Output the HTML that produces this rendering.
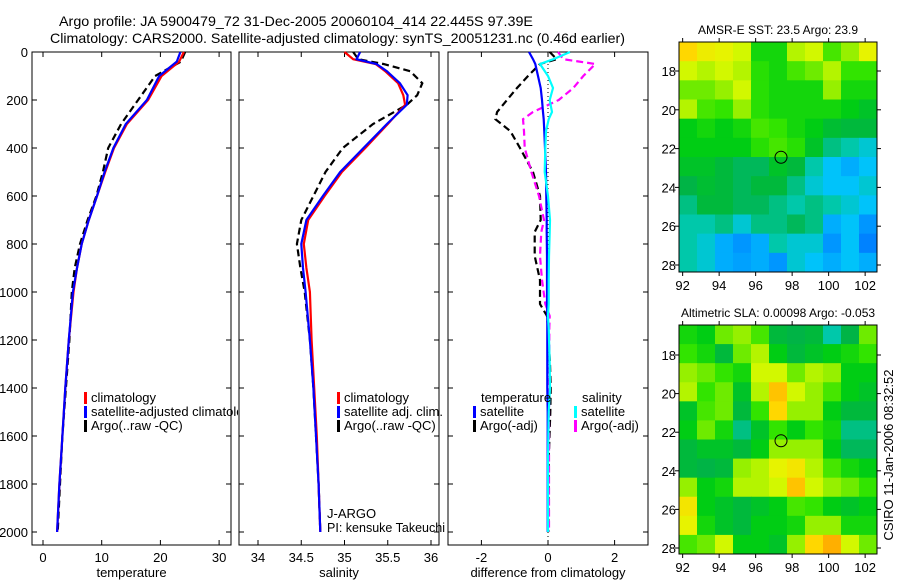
<!DOCTYPE html>
<html><head><meta charset="utf-8"><style>
body{margin:0;background:#fff}
svg text{font-family:"Liberation Sans",sans-serif;fill:#000}
</style></head><body>
<svg id="fig" width="900" height="580" viewBox="0 0 900 580" xmlns="http://www.w3.org/2000/svg">
<defs><clipPath id="clip1"><rect x="0" y="0" width="238" height="580"/></clipPath></defs>
<rect width="900" height="580" fill="#fff"/>
<text x="59" y="26" font-size="14" textLength="474" lengthAdjust="spacingAndGlyphs">Argo profile: JA 5900479_72 31-Dec-2005 20060104_414 22.445S 97.39E</text>
<text x="50" y="43" font-size="14" textLength="575" lengthAdjust="spacingAndGlyphs">Climatology: CARS2000. Satellite-adjusted climatology: synTS_20051231.nc (0.46d earlier)</text>
<g id="g1"></g>
<g id="g2"></g>
<g id="g3"></g>
<g id="m1"></g>
<g id="m2"></g>
<text transform="translate(893,455) rotate(-90)" font-size="13" text-anchor="middle">CSIRO 11-Jan-2006 08:32:52</text>
</svg>
<script>
// ---- data ----
const tDepth=[0,40,100,200,300,400,500,600,700,800,900,1000,1200,1400,1600,1800,2000];
const tClim=[24,23.2,20.2,17.9,14.3,12.1,10.6,9.2,7.8,6.6,5.8,5.2,4.4,3.8,3.3,2.8,2.4];
const tSat=[23.4,22.8,19.8,17.7,14.1,12,10.5,9.2,7.8,6.6,5.8,5.1,4.4,3.8,3.3,2.8,2.4];
const tArgo=[24.2,23.5,19.1,16.2,13.3,11.1,10.2,9.1,7.6,6.3,5.4,4.9,4.5,3.9,3.3,2.9,2.5];
const sDepth=[0,30,50,80,130,180,220,300,400,500,600,700,800,900,1000,1200,1400,1600,1800,2000];
const sClim=[35.0,35.1,35.36,35.47,35.62,35.68,35.7,35.5,35.24,34.97,34.77,34.58,34.53,34.56,34.6,34.62,34.65,34.68,34.7,34.72];
const sSat=[35.18,35.14,35.37,35.49,35.64,35.73,35.72,35.49,35.22,34.95,34.75,34.56,34.5,34.52,34.55,34.6,34.64,34.67,34.7,34.72];
const sArgo=[35.1,35.16,35.45,35.76,35.9,35.84,35.72,35.33,34.98,34.78,34.64,34.5,34.45,34.49,34.54,34.6,34.64,34.67,34.7,34.72];
const dDepth=[0,30,50,100,150,200,250,280,330,400,500,600,700,750,850,950,1050,1100,1150,1300,1400,1500,1700,2000];
const dTempSat=[-0.57,-0.45,-0.38,-0.3,-0.22,-0.18,-0.15,-0.13,-0.11,-0.09,-0.06,-0.05,-0.04,-0.04,-0.03,-0.03,-0.03,-0.02,-0.02,-0.02,-0.02,-0.01,-0.01,-0.01];
const dTempArgo=[0.05,0.26,-0.24,-0.6,-0.93,-1.23,-1.53,-1.58,-1.13,-0.84,-0.45,-0.24,-0.22,-0.4,-0.4,-0.24,-0.24,-0.03,0,0.06,0.08,0.07,0.02,0.01];
const dSalSat=[0.66,0.16,-0.24,0.0,0.15,0.05,0.12,0.02,-0.06,-0.08,-0.1,0.0,0.06,0.05,0.03,0.02,0.02,0.0,0.02,0.05,0.06,0.02,0.0,0.0];
const dSalArgo=[0.3,0.46,1.42,1.06,0.76,0.32,-0.45,-0.75,-0.72,-0.7,-0.5,-0.27,-0.12,-0.2,-0.24,-0.18,-0.08,0.05,0.04,0.04,0.04,0.03,0.03,0.03];
const sstGrid=[
[.70,.67,.66,.64,.52,.52,.62,.64,.56,.60,.66],
[.64,.62,.64,.62,.54,.52,.56,.58,.62,.55,.55],
[.58,.58,.60,.64,.54,.52,.52,.52,.60,.52,.52],
[.62,.56,.55,.60,.54,.52,.52,.52,.52,.50,.48],
[.50,.52,.50,.52,.56,.55,.52,.50,.47,.46,.46],
[.50,.50,.50,.50,.54,.56,.54,.48,.42,.40,.38],
[.48,.48,.46,.44,.44,.48,.46,.40,.36,.34,.36],
[.45,.47,.46,.44,.46,.46,.42,.38,.36,.36,.38],
[.42,.46,.46,.44,.44,.42,.40,.42,.40,.38,.36],
[.40,.40,.42,.38,.42,.42,.44,.42,.34,.36,.32],
[.40,.38,.34,.32,.34,.40,.38,.38,.32,.36,.30],
[.40,.38,.34,.33,.34,.32,.38,.36,.34,.36,.34]];
const slaGrid=[
[.52,.50,.58,.60,.56,.46,.45,.46,.40,.45,.58],
[.55,.52,.46,.58,.62,.50,.46,.48,.50,.52,.55],
[.60,.58,.55,.52,.64,.64,.58,.62,.60,.50,.50],
[.62,.55,.58,.48,.62,.72,.64,.60,.56,.50,.48],
[.48,.56,.58,.46,.55,.70,.60,.60,.50,.46,.46],
[.50,.58,.52,.42,.48,.55,.50,.55,.52,.42,.42],
[.46,.48,.48,.46,.50,.60,.60,.60,.50,.44,.44],
[.46,.45,.46,.60,.62,.66,.68,.62,.56,.52,.50],
[.60,.50,.52,.62,.62,.64,.72,.64,.60,.58,.55],
[.68,.50,.48,.46,.48,.50,.56,.55,.50,.48,.50],
[.66,.52,.48,.46,.50,.50,.52,.60,.60,.52,.52],
[.56,.58,.64,.50,.50,.48,.60,.70,.74,.64,.58]];
const depthTicks=[0,200,400,600,800,1000,1200,1400,1600,1800,2000];
const tTicks=[0,10,20,30];
const sTicks=[34,34.5,35,35.5,36];
const dTicks=[-2,0,2];
const lonTicks=[92,94,96,98,100,102];
const latTicks=[18,20,22,24,26,28];
const floatLon=97.39, floatLat=22.445;

const NS="http://www.w3.org/2000/svg";
function mk(parent,tag,attrs,txt){const e=document.createElementNS(NS,tag);for(const k in attrs)e.setAttribute(k,attrs[k]);if(txt!==undefined)e.textContent=txt;parent.appendChild(e);return e;}
const yD=d=>52+d*0.24;
const TOP=52,BOT=545;

function panel(g,x0,x1,xs,ticks,label,showY){
  const f=mk(g,'rect',{x:x0,y:TOP,width:x1-x0,height:BOT-TOP,fill:'none',stroke:'#000','stroke-width':1});
  
  
  ticks.forEach(t=>{const x=xs(t);
    mk(g,'line',{x1:x,x2:x,y1:BOT,y2:BOT-5,stroke:'#000'});mk(g,'line',{x1:x,x2:x,y1:TOP,y2:TOP+5,stroke:'#000'});
    const tl=mk(g,'text',{x:x,y:562,'font-size':13,'text-anchor':'middle'},String(t));
    
    });
  depthTicks.forEach(d=>{const y=yD(d);
    mk(g,'line',{x1:x0,x2:x0+5,y1:y,y2:y,stroke:'#000'});mk(g,'line',{x1:x1,x2:x1-5,y1:y,y2:y,stroke:'#000'});
    if(showY){const tl=mk(g,'text',{x:28,y:y+5,'font-size':13,'text-anchor':'end'},String(d));
      
      }});
  const xl=mk(g,'text',{x:(x0+x1)/2,y:577,'font-size':13,'text-anchor':'middle'},label);
  
  
}
function line(g,xs,depth,vals,color,dash,name){
  const pts=vals.map((v,i)=>xs(v).toFixed(1)+','+yD(depth[i]).toFixed(1)).join(' ');
  const p=mk(g,'polyline',{points:pts,fill:'none',stroke:color,'stroke-width':2.2,'stroke-dasharray':dash||'none'});
  
  
}
function legend(g,x,y,color,txt){
  mk(g,'rect',{x:x,y:y-10,width:3,height:12,fill:color});
  const t=mk(g,'text',{x:x+7,y:y,'font-size':13},txt);
  
  
  return t;
}
// panel 1
const g1=document.getElementById('g1');
const xT=v=>43+v*5.87;
panel(g1,32,231,xT,tTicks,'temperature',true);
line(g1,xT,tDepth,tArgo,'#000','7,4','argo-temperature-line');
line(g1,xT,tDepth,tClim,'#f00',null,'climatology-temperature-line');
line(g1,xT,tDepth,tSat,'#00f',null,'satellite-temperature-line');
legend(g1,84,402,'#f00','climatology');
legend(g1,84,416,'#00f','satellite-adjusted climatology').setAttribute('clip-path','url(#clip1)');
legend(g1,84,430,'#000','Argo(..raw -QC)');
// panel 2
const g2=document.getElementById('g2');
const xS=v=>258+(v-34)*86.5;
panel(g2,239,439,xS,sTicks,'salinity',false);
line(g2,xS,sDepth,sArgo,'#000','7,4','argo-salinity-line');
line(g2,xS,sDepth,sClim,'#f00',null,'climatology-salinity-line');
line(g2,xS,sDepth,sSat,'#00f',null,'satellite-salinity-line');
legend(g2,337,402,'#f00','climatology');
legend(g2,337,416,'#00f','satellite adj. clim.');
legend(g2,337,430,'#000','Argo(..raw -QC)');
mk(g2,'text',{x:327,y:518,'font-size':13},'J-ARGO');
mk(g2,'text',{x:327,y:532,'font-size':13,textLength:118,lengthAdjust:'spacingAndGlyphs'},'PI: kensuke Takeuchi');
// panel 3
const g3=document.getElementById('g3');
const xDf=v=>548+v*33.3;
panel(g3,448,648,xDf,dTicks,'difference from climatology',false);
mk(g3,'line',{x1:xDf(0),x2:xDf(0),y1:TOP,y2:BOT,stroke:'#000','stroke-dasharray':'1,3'});
line(g3,xDf,dDepth,dTempArgo,'#000','7,4','argo-temperature-diff-line');
line(g3,xDf,dDepth,dSalArgo,'#f0f','7,4','argo-salinity-diff-line');
line(g3,xDf,dDepth,dTempSat,'#00f',null,'satellite-temperature-diff-line');
line(g3,xDf,dDepth,dSalSat,'#0ff',null,'satellite-salinity-diff-line');
mk(g3,'text',{x:481,y:402,'font-size':13},'temperature');
mk(g3,'text',{x:582,y:402,'font-size':13},'salinity');
legend(g3,473,416,'#00f','satellite');
legend(g3,473,430,'#000','Argo(-adj)');
legend(g3,574,416,'#0ff','satellite');
legend(g3,574,430,'#f0f','Argo(-adj)');

// maps
const cmapStops=[[0.28,[0,110,255]],[0.32,[0,150,255]],[0.36,[0,195,250]],[0.40,[0,200,170]],[0.45,[0,180,70]],[0.50,[0,205,20]],[0.55,[50,228,0]],[0.60,[150,240,0]],[0.65,[225,250,0]],[0.70,[255,215,0]],[0.75,[255,165,0]]];
function cmap(v){
  if(v<=cmapStops[0][0])return `rgb(${cmapStops[0][1].join(',')})`;
  for(let i=1;i<cmapStops.length;i++){
    if(v<=cmapStops[i][0]){const [a,ca]=cmapStops[i-1],[b,cb]=cmapStops[i];const t=(v-a)/(b-a);
      return `rgb(${ca.map((c,k)=>Math.round(c+(cb[k]-c)*t)).join(',')})`;}
  }
  return `rgb(${cmapStops[cmapStops.length-1][1].join(',')})`;
}
function map(g,grid,x0,x1,y0,y1,lat18y,pxLat,title){
  const lon0=91.8, lon1=102.65;
  const xs=lon=>x0+(lon-lon0)/(lon1-lon0)*(x1-x0);
  const ys=lat=>lat18y+(lat-18)*pxLat;
  const lat0=(y0-lat18y)/pxLat+18, lat1=(y1-lat18y)/pxLat+18;
  const nr=grid.length,nc=grid[0].length;
  grid.forEach((row,i)=>row.forEach((v,j)=>{
    const la=lat0+(lat1-lat0)*i/nr, lb=lat0+(lat1-lat0)*(i+1)/nr;
    const lo=lon0+(lon1-lon0)*j/nc, lo2=lon0+(lon1-lon0)*(j+1)/nc;
    const c=mk(g,'rect',{x:xs(lo),y:ys(la),width:xs(lo2)-xs(lo)+0.5,height:ys(lb)-ys(la)+0.5,fill:cmap(v)});
    
    
  }));
  mk(g,'rect',{x:x0,y:y0,width:x1-x0,height:y1-y0,fill:'none',stroke:'#000'});
  lonTicks.forEach(l=>{const x=xs(l);
    mk(g,'line',{x1:x,x2:x,y1:y1,y2:y1+4,stroke:'#000'});mk(g,'line',{x1:x,x2:x,y1:y0,y2:y0-4,stroke:'#000'});
    const t=mk(g,'text',{x:x,y:y1+18,'font-size':13,'text-anchor':'middle'},String(l));
    
    });
  latTicks.forEach(l=>{const y=ys(l);
    mk(g,'line',{x1:x0,x2:x0-4,y1:y,y2:y,stroke:'#000'});mk(g,'line',{x1:x1,x2:x1+4,y1:y,y2:y,stroke:'#000'});
    const t=mk(g,'text',{x:x0-3,y:y+5,'font-size':13,'text-anchor':'end'},String(l));
    
    });
  const c=mk(g,'circle',{cx:xs(floatLon),cy:ys(floatLat),r:6,fill:'none',stroke:'#000','stroke-width':1});
  
  
  const t=mk(g,'text',{x:(x0+x1)/2,y:y0-8,'font-size':12,'text-anchor':'middle'},title);
  
  
}
map(document.getElementById('m1'),sstGrid,679,877,42,272,71,19.4,'AMSR-E SST: 23.5 Argo: 23.9');
map(document.getElementById('m2'),slaGrid,679,877,325,554,355,19.3,'Altimetric SLA: 0.00098 Argo: -0.053');
</script>
</body></html>
